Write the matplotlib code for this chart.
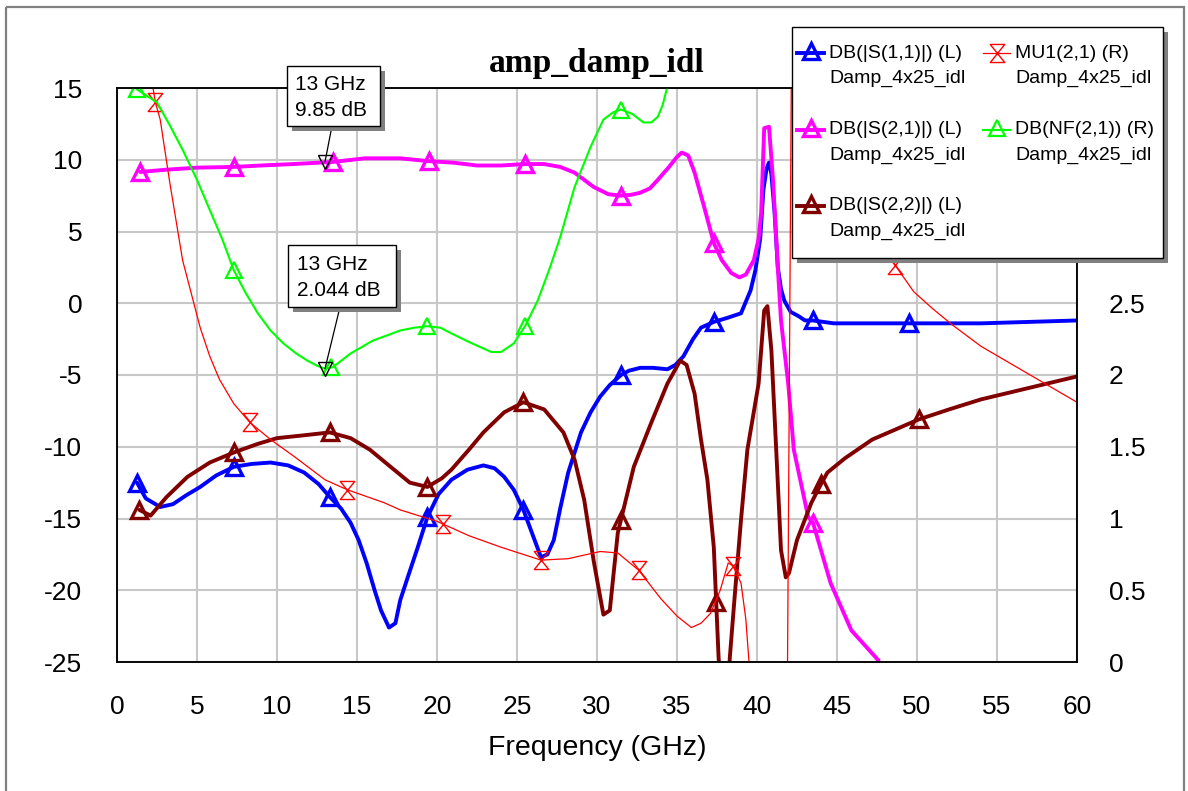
import numpy as np
import matplotlib
matplotlib.use("Agg")
import matplotlib.pyplot as plt
from matplotlib.path import Path
from matplotlib.patches import Rectangle, ConnectionPatch
from matplotlib.lines import Line2D

plt.rcParams['font.family'] = ['Liberation Sans', 'DejaVu Sans']
plt.rcParams['axes.unicode_minus'] = False

# ---------------- data ----------------
# DB(|S(1,1)|) (L)
s11_x = [1.25, 1.8, 2.7, 3.5, 4.3, 5.2, 6.2, 7.3, 8.4, 9.6, 10.7, 11.7, 12.6, 13.3, 14.0, 14.6, 15.1, 15.6, 16.1, 16.5,
         17.0, 17.4, 17.7, 18.2, 18.8, 19.4, 20.1, 20.9, 21.9, 22.9, 23.6, 24.2, 24.8, 25.4, 26.0, 26.5, 26.9, 27.3, 27.7, 28.2,
         29.0, 29.6, 30.2, 30.8, 31.5, 32.0, 32.7, 33.5, 34.4, 34.9, 35.4, 36.0, 36.5, 37.3, 38.2, 39.0, 39.6, 39.9, 40.2, 40.4,
         40.6, 40.75, 40.9, 41.1, 41.3, 41.5, 41.7, 42.1, 42.6, 43.0, 43.5, 44.8, 47.0, 50.0, 54.0, 57.0, 60.0]
s11_y = [-12.5, -13.6, -14.2, -14.0, -13.4, -12.8, -12.0, -11.4, -11.2, -11.1, -11.3, -11.8, -12.6, -13.5, -14.3, -15.3, -16.5, -18.1, -20.0, -21.4,
         -22.6, -22.3, -20.7, -19.0, -17.0, -14.9, -13.3, -12.3, -11.6, -11.3, -11.5, -12.1, -13.0, -14.4, -16.2, -17.7, -17.5, -16.5, -14.3, -11.8,
         -9.0, -7.6, -6.5, -5.7, -5.0, -4.7, -4.5, -4.5, -4.6, -4.3, -3.7, -2.5, -1.7, -1.3, -1.0, -0.7, 0.9, 2.3, 4.5, 7.9,
         9.4, 9.8, 9.0, 6.3, 2.5, 1.0, 0.2, -0.6, -0.9, -1.2, -1.2, -1.4, -1.4, -1.4, -1.4, -1.3, -1.2]
s11_mk = [1.25, 7.3, 13.3, 19.4, 25.4, 31.5, 37.3, 43.5, 49.5]

# DB(|S(2,1)|) (L)
s21_x = [1.45, 3.0, 5.0, 7.3, 9.0, 11.0, 13.5, 15.5, 17.7, 19.5, 21.0, 22.5, 24.0, 25.5, 26.7, 27.7, 28.6, 29.8, 30.7, 31.5,
         32.1, 32.7, 33.3, 33.8, 34.5, 35.0, 35.3, 35.7, 36.1, 36.7, 37.3, 37.8, 38.4, 38.9, 39.3, 39.8, 40.1, 40.26, 40.45, 40.75,
         41.0, 41.3, 41.5, 41.95, 42.3, 43.2, 43.5, 44.6, 45.9, 47.6]
s21_y = [9.15, 9.3, 9.45, 9.5, 9.6, 9.7, 9.85, 10.1, 10.1, 9.9, 9.8, 9.6, 9.6, 9.7, 9.7, 9.5, 9.1, 8.1, 7.6, 7.5,
         7.55, 7.7, 8.0, 8.6, 9.5, 10.2, 10.5, 10.3, 9.1, 6.7, 4.2, 3.0, 2.1, 1.8, 2.0, 3.0, 4.5, 6.3, 12.2, 12.3,
         8.6, 2.5, -1.2, -5.6, -10.2, -14.9, -15.3, -19.5, -22.8, -24.9]
s21_mk = [1.45, 7.3, 13.5, 19.5, 25.5, 31.5, 37.3, 43.5]

# DB(|S(2,2)|) (L)
s22_x = [1.4, 2.1, 3.1, 4.4, 5.8, 7.3, 8.8, 10.0, 11.7, 13.3, 14.6, 15.8, 17.1, 18.3, 19.4, 20.3, 20.9, 22.0, 22.9, 24.2,
         25.4, 26.7, 27.9, 28.6, 29.2, 29.8, 30.4, 30.8, 31.3, 32.3, 33.4, 34.4, 35.2, 35.6, 36.1, 36.5, 36.9, 37.3, 37.6, 37.8,
         38.15, 38.3, 38.6, 39.0, 39.4, 40.1, 40.45, 40.65, 40.9, 41.3, 41.5, 41.8, 42.0, 42.5, 43.4, 44.0, 44.4, 45.5, 47.2, 50.1,
         52.0, 54.0, 57.0, 60.0]
s22_y = [-14.4, -14.8, -13.5, -12.1, -11.1, -10.4, -9.8, -9.4, -9.2, -9.0, -9.4, -10.2, -11.4, -12.5, -12.8, -12.2, -11.6, -10.2, -9.0, -7.6,
         -6.9, -7.4, -9.0, -10.9, -13.7, -18.0, -21.7, -21.4, -16.0, -11.4, -8.3, -5.6, -4.0, -4.3, -6.3, -9.5, -12.3, -17.0, -24.7, -28.0,
         -28.0, -24.7, -20.5, -15.1, -10.2, -5.6, -0.5, -0.2, -3.3, -12.5, -17.2, -19.1, -18.8, -16.5, -13.9, -12.6, -11.8, -10.8, -9.5, -8.1,
         -7.4, -6.7, -5.9, -5.1]
s22_mk = [1.4, 7.3, 13.3, 19.4, 25.4, 31.5, 37.45, 44.0, 50.1]

# MU1(2,1) (R)
mu1_x = [2.1, 2.4, 2.7, 3.3, 4.1, 5.2, 5.8, 6.4, 7.3, 8.3, 9.6, 11.1, 13.0, 14.4, 16.7, 17.7, 20.0, 20.4, 22.0, 24.0,
         26.5, 28.2, 29.0, 30.2, 31.3, 32.6, 34.0, 35.0, 35.9, 36.5, 37.1, 37.7, 38.2, 38.5, 39.0, 39.3, 39.5, 39.7, 41.9, 42.15,
         43.0, 44.5, 46.0, 47.5, 48.6, 49.8, 51.0, 52.2, 54.0, 56.0, 58.0, 60.0]
mu1_y = [4.10, 3.90, 3.78, 3.34, 2.80, 2.33, 2.13, 1.97, 1.80, 1.67, 1.55, 1.43, 1.27, 1.20, 1.11, 1.06, 0.98, 0.96, 0.88, 0.80,
         0.71, 0.72, 0.74, 0.77, 0.76, 0.64, 0.44, 0.32, 0.24, 0.27, 0.34, 0.50, 0.69, 0.67, 0.55, 0.30, 0.00, -0.15, -0.15, 4.15,
         3.80, 3.35, 3.10, 2.92, 2.77, 2.58, 2.46, 2.35, 2.20, 2.07, 1.94, 1.81]
mu1_mk = [2.4, 8.3, 14.4, 20.4, 26.5, 32.6, 38.5, 48.6]

# DB(NF(2,1)) (R)
nf_x = [1.25, 2.5, 3.3, 4.1, 5.0, 5.8, 6.6, 7.3, 8.0, 8.8, 9.6, 10.4, 11.2, 11.9, 12.5, 13.0, 13.5, 14.6, 16.0, 17.7,
        18.6, 19.4, 20.2, 20.9, 22.0, 23.4, 24.0, 24.8, 25.5, 26.3, 27.0, 27.7, 28.6, 29.6, 30.4, 31.0, 31.5, 32.2, 32.9, 33.4,
        33.8, 34.1, 34.4, 34.6]
nf_y = [3.99, 3.90, 3.74, 3.57, 3.36, 3.15, 2.94, 2.73, 2.58, 2.43, 2.31, 2.22, 2.15, 2.10, 2.065, 2.044, 2.055, 2.15, 2.24, 2.31,
        2.33, 2.34, 2.33, 2.29, 2.23, 2.16, 2.16, 2.22, 2.34, 2.52, 2.73, 2.96, 3.31, 3.59, 3.78, 3.83, 3.85, 3.82, 3.76, 3.76,
        3.80, 3.88, 4.01, 4.10]
nf_mk = [1.25, 7.3, 13.4, 19.4, 25.5, 31.5]

x_ticks = list(range(0, 61, 5))
yl_ticks = list(range(-25, 16, 5))
yr_ticks = [0, 0.5, 1, 1.5, 2, 2.5, 3, 3.5, 4]
yr_visible_max = 2.5  # higher right-axis labels sit behind the legend box

legend_names = ["DB(|S(1,1)|) (L)", "DB(|S(2,1)|) (L)", "DB(|S(2,2)|) (L)", "MU1(2,1) (R)", "DB(NF(2,1)) (R)"]
legend_sub = "Damp_4x25_idl"
title = "amp_damp_idl"
xlabel = "Frequency (GHz)"

mark_freq = 13
mark_s21 = 9.85
mark_nf = 2.044

# ---------------- figure ----------------
W, H = 1188, 791
fig = plt.figure(figsize=(W / 100, H / 100), dpi=100)
fig.patch.set_facecolor('white')

L, R_, T, B = 117, 1077, 88, 662
ax = fig.add_axes([L / W, 1 - B / H, (R_ - L) / W, (B - T) / H])
ax.set_xlim(0, 60)
ax.set_ylim(-25, 15)
ax.set_xticks(x_ticks)
ax.set_yticks(yl_ticks)
ax.grid(True, color='#c8c8c8', lw=1.5)
ax.set_axisbelow(True)
ax.tick_params(length=0, labelsize=19, colors='black')
ax.tick_params(axis='y', pad=25)
ax.tick_params(axis='x', pad=24)
for s in ax.spines.values():
    s.set_linewidth(1.1)
    s.set_color('black')

ax2 = ax.twinx()
ax2.set_ylim(0, 4)
ax2.set_yticks(yr_ticks)
ax2.set_yticklabels([f"{v:g}" if v <= yr_visible_max else "" for v in yr_ticks])
ax2.tick_params(length=0, labelsize=19, pad=23)
for s in ax2.spines.values():
    s.set_linewidth(1.1)

C_S11, C_S21, C_S22, C_MU, C_NF = '#0000ff', '#ff00ff', '#800000', '#ff0000', '#00ff00'

hour = Path([(-0.8, 1), (0.8, 1), (-0.8, -1), (0.8, -1), (-0.8, 1)],
            [Path.MOVETO, Path.LINETO, Path.LINETO, Path.LINETO, Path.CLOSEPOLY])

def series(a, x, y, mk, color, lw, marker, ms, mew):
    a.plot(x, y, color=color, lw=lw, solid_joinstyle='round', solid_capstyle='round')
    my = np.interp(mk, x, y)
    a.plot(mk, my, ls='none', marker=marker, ms=ms, mew=mew, mec=color, mfc='none')

series(ax, s11_x, s11_y, s11_mk, C_S11, 2.8, '^', 11.5, 2.4)
series(ax, s21_x, s21_y, s21_mk, C_S21, 2.8, '^', 11.5, 2.4)
series(ax, s22_x, s22_y, s22_mk, C_S22, 2.8, '^', 11.5, 2.4)
series(ax2, mu1_x, mu1_y, mu1_mk, C_MU, 0.9, hour, 13, 1.0)
series(ax2, nf_x, nf_y, nf_mk, C_NF, 1.5, '^', 11.5, 1.6)

# marker points
ax.plot([mark_freq], [mark_s21], ls='none', marker='v', ms=10, mew=1.0, mec='black', mfc='none', zorder=5)
ax2.plot([mark_freq], [mark_nf], ls='none', marker='v', ms=10, mew=1.0, mec='black', mfc='none', zorder=5)

# ---------------- overlay (pixel coordinates) ----------------
ov = fig.add_axes([0, 0, 1, 1])
ov.set_xlim(0, W)
ov.set_ylim(H, 0)
ov.axis('off')
ov.set_zorder(10)

# outer frame
ov.add_patch(Rectangle((6, 7), 1178, 800, fill=False, ec='#808080', lw=1.6))

# title and x label
ov.text(597, 72, title, ha='center', va='baseline', fontsize=24, fontweight='bold',
        family=['Liberation Serif', 'DejaVu Serif'])
ov.text(597, 748, xlabel, ha='center', va='center', fontsize=20.5)

# marker annotation boxes
def mbox(x0, y0, w, h, lines, tx, ty, anchor, target, trans):
    ov.add_patch(Rectangle((x0 + 5, y0 + 5), w, h, fc='#808080', ec='none', zorder=3))
    ov.add_patch(Rectangle((x0, y0), w, h, fc='white', ec='black', lw=1.0, zorder=4))
    for i, t in enumerate(lines):
        ov.text(tx, ty + i * 25, t, ha='left', va='center', fontsize=15, zorder=5)
    cp = ConnectionPatch(xyA=anchor, coordsA=ov.transData, xyB=target, coordsB=trans,
                         color='black', lw=0.9, zorder=2)
    fig.add_artist(cp)

mbox(287, 66, 93, 60, [f"{mark_freq} GHz", f"{mark_s21} dB"], 295, 85, (332, 126),
     (mark_freq, mark_s21), ax.transData)
mbox(288, 245, 108, 62, [f"{mark_freq} GHz", f"{mark_nf} dB"], 297, 265, (340, 307),
     (mark_freq, mark_nf), ax2.transData)

# legend
lx0, ly0, lw_, lh_ = 792, 27, 371, 231
ov.add_patch(Rectangle((lx0 + 5, ly0 + 5), lw_, lh_, fc='#808080', ec='none', zorder=6))
ov.add_patch(Rectangle((lx0, ly0), lw_, lh_, fc='white', ec='black', lw=1.0, zorder=7))
entries = [
    (797, 53, C_S11, 2.8, '^', 11, 2.4, legend_names[0]),
    (797, 130, C_S21, 2.8, '^', 11, 2.4, legend_names[1]),
    (797, 206, C_S22, 2.8, '^', 11, 2.4, legend_names[2]),
    (983, 53, C_MU, 0.9, hour, 13, 1.0, legend_names[3]),
    (983, 130, C_NF, 1.5, '^', 11, 1.6, legend_names[4]),
]
for (sx, sy, col, lwv, mk, ms, mew, name) in entries:
    ov.add_line(Line2D([sx, sx + 27], [sy, sy], color=col, lw=lwv, zorder=8))
    ov.add_line(Line2D([sx + 13.5], [sy - 2 if mk == '^' else sy], ls='none', marker=mk, ms=ms, mew=mew,
                       mec=col, mfc='none', zorder=8))
    ov.text(sx + 32, sy, name, ha='left', va='center', fontsize=14, zorder=8)
    ov.text(sx + 32, sy + 25, legend_sub, ha='left', va='center', fontsize=14, zorder=8)

fig.savefig('out.png', dpi=100, facecolor='white')
